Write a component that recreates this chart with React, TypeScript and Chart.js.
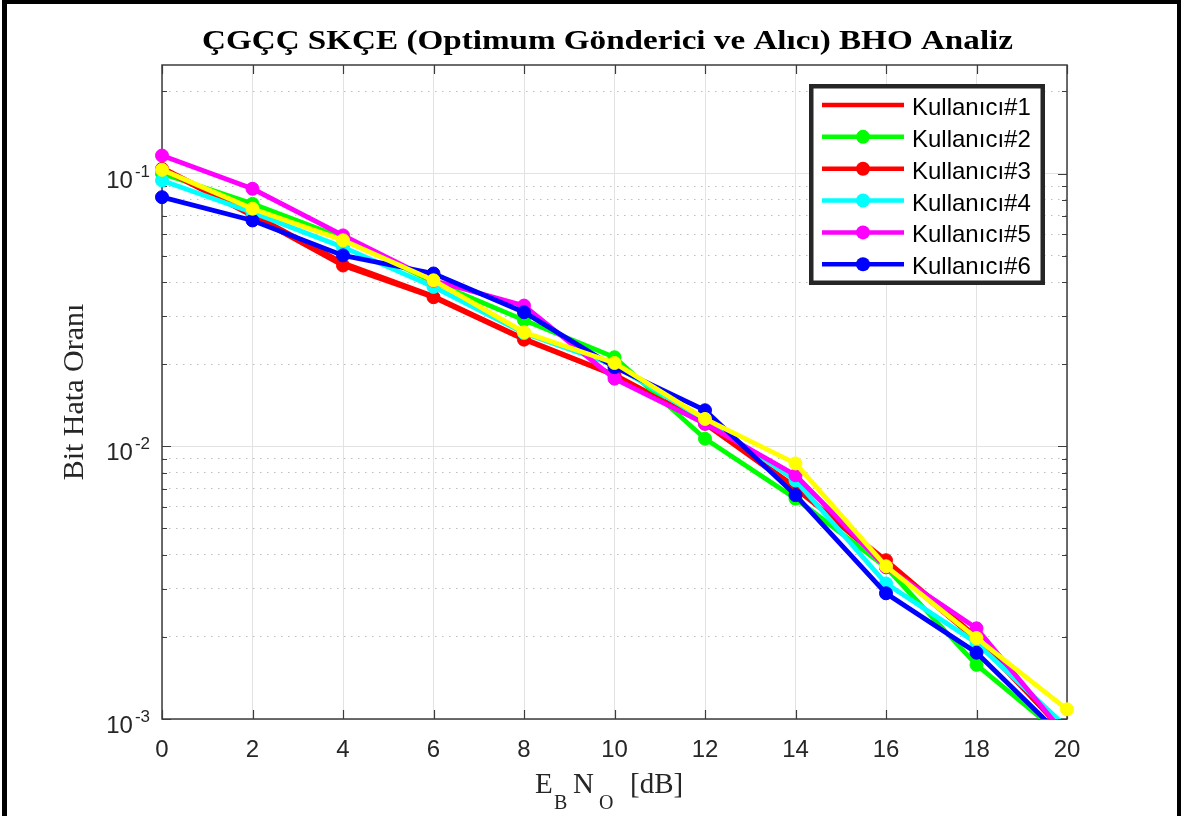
import React, { useEffect, useRef } from "react";
import { Chart, registerables } from "chart.js";

Chart.register(...registerables);

// ---------- data ----------
const xValues = [0, 2, 4, 6, 8, 10, 12, 14, 16, 18, 20];
const user1 = [0.105, 0.071, 0.047, 0.0355, 0.0248, 0.0183, 0.0122, 0.0071, 0.0037, 0.00195, 0.00088];
const user2 = [0.1, 0.0774, 0.058, 0.04, 0.029, 0.0212, 0.01066, 0.00643, 0.0036, 0.00158, 0.00084];
const user3 = [0.104, 0.07, 0.046, 0.0352, 0.0246, 0.0182, 0.0121, 0.007, 0.00382, 0.002, 0.00087];
const user4 = [0.0943, 0.072, 0.0537, 0.0384, 0.026, 0.0198, 0.0125, 0.0075, 0.00314, 0.0019, 0.00093];
const user5 = [0.1164, 0.0879, 0.0593, 0.0405, 0.0328, 0.0177, 0.0121, 0.00783, 0.0036, 0.00215, 0.00086];
const user6 = [0.0819, 0.0673, 0.0501, 0.043, 0.031, 0.0195, 0.01355, 0.00662, 0.00289, 0.00175, 0.00083];
const extraSeries = [0.1032, 0.0743, 0.0569, 0.0406, 0.0262, 0.0202, 0.0126, 0.00865, 0.00363, 0.00198, 0.001085];

const seriesValues = [user1, user2, user3, user4, user5, user6, extraSeries];
const seriesLabels = ["Kullanıcı#1", "Kullanıcı#2", "Kullanıcı#3", "Kullanıcı#4", "Kullanıcı#5", "Kullanıcı#6", ""];
const seriesColors = ["#ff0000", "#00ff00", "#ff0000", "#00ffff", "#ff00ff", "#0000ff", "#ffff00"];
const seriesHasMarker = [false, true, true, true, true, true, true];
const legendCount = 6;

const xTicks = [0, 2, 4, 6, 8, 10, 12, 14, 16, 18, 20];
const yDecades = [0.001, 0.01, 0.1];
const yDecadeBase = ["10", "10", "10"];
const yDecadeExponents = ["-3", "-2", "-1"];
const yMinorMultipliers = [2, 3, 4, 5, 6, 7, 8, 9];
const yMin = 0.001;
const yMax = 0.25;

const titleText = "ÇGÇÇ SKÇE (Optimum Gönderici ve Alıcı) BHO Analiz";
const yTitle = "Bit Hata Oranı";

const SANS = '"Liberation Sans", Arial, Helvetica, sans-serif';
const SERIF = '"Liberation Serif", "Times New Roman", Times, serif';
const TEXT = "#262626";

const isMajor = (v: number) => Math.abs(Math.log10(v) - Math.round(Math.log10(v))) < 1e-9;

function buildYTicks() {
  const t: { value: number }[] = [];
  yDecades.forEach((d) => {
    t.push({ value: d });
    yMinorMultipliers.forEach((m) => {
      const v = d * m;
      if (v <= yMax) t.push({ value: v });
    });
  });
  return t;
}

const decorPlugin = {
  id: "decor",
  beforeDraw(chart: any) {
    const { ctx, width, height } = chart;
    ctx.save();
    ctx.fillStyle = "#ffffff";
    ctx.fillRect(0, 0, width, height);
    ctx.restore();
  },
  beforeDatasetsDraw(chart: any) {
    const { ctx, chartArea: a, scales } = chart;
    const xs = scales.x;
    const ys = scales.y;
    ctx.save();
    ctx.strokeStyle = "#3c3c3c";
    ctx.lineWidth = 1.2;
    ctx.beginPath();
    xTicks.forEach((v) => {
      const px = Math.round(xs.getPixelForValue(v)) + 0.5;
      ctx.moveTo(px, a.bottom);
      ctx.lineTo(px, a.bottom - 9);
      ctx.moveTo(px, a.top);
      ctx.lineTo(px, a.top + 9);
    });
    buildYTicks().forEach((t) => {
      const py = Math.round(ys.getPixelForValue(t.value)) + 0.5;
      const len = isMajor(t.value) ? 9 : 5;
      ctx.moveTo(a.left, py);
      ctx.lineTo(a.left + len, py);
      ctx.moveTo(a.right, py);
      ctx.lineTo(a.right - len, py);
    });
    ctx.stroke();
    ctx.lineWidth = 1.5;
    ctx.strokeRect(a.left, a.top, a.right - a.left, a.bottom - a.top);
    ctx.restore();
  },
  afterDraw(chart: any) {
    const { ctx, chartArea: a, scales } = chart;
    const ys = scales.y;
    ctx.save();

    // frame
    ctx.fillStyle = "#000000";
    ctx.fillRect(2, 0, 5, 816);
    ctx.fillRect(2, 0, 1179, 4);
    ctx.fillRect(1177, 0, 4, 816);

    // y tick labels with superscripts
    ctx.fillStyle = TEXT;
    ctx.textBaseline = "alphabetic";
    yDecades.forEach((d, i) => {
      const py = ys.getPixelForValue(d);
      ctx.font = `17px ${SANS}`;
      const ew = ctx.measureText(yDecadeExponents[i]).width;
      ctx.textAlign = "right";
      ctx.fillText(yDecadeExponents[i], a.left - 12, py + 3);
      ctx.font = `24px ${SANS}`;
      ctx.fillText(yDecadeBase[i], a.left - 12 - ew - 2, py + 14);
    });

    // title (stretched horizontally to the reference width)
    const cx = (a.left + a.right) / 2;
    ctx.fillStyle = "#000000";
    ctx.textAlign = "center";
    ctx.font = `bold 27px ${SERIF}`;
    const tw = ctx.measureText(titleText).width;
    const targetW = 811;
    ctx.save();
    ctx.translate(cx - 7, 49);
    ctx.scale(targetW / tw, 1);
    ctx.fillText(titleText, 0, 0);
    ctx.restore();

    // y axis title
    ctx.fillStyle = TEXT;
    ctx.save();
    ctx.translate(83, (a.top + a.bottom) / 2);
    ctx.rotate(-Math.PI / 2);
    ctx.font = `30px ${SERIF}`;
    ctx.textAlign = "center";
    ctx.fillText(yTitle, 0, 0);
    ctx.restore();

    // x axis title E_B N_O [dB]
    ctx.textAlign = "left";
    const base = 793;
    const sub = 809;
    const x0 = cx - 79.5;
    ctx.font = `29px ${SERIF}`;
    ctx.fillText("E", x0, base);
    ctx.font = `20px ${SERIF}`;
    ctx.fillText("B", x0 + 19, sub);
    ctx.font = `29px ${SERIF}`;
    ctx.fillText("N", x0 + 38, base);
    ctx.font = `20px ${SERIF}`;
    ctx.fillText("O", x0 + 64, sub);
    ctx.font = `29px ${SERIF}`;
    ctx.fillText("[dB]", x0 + 95, base);

    // legend
    const lx = 809;
    const ly = 84;
    const lw = 236;
    const lh = 201;
    ctx.fillStyle = "#ffffff";
    ctx.fillRect(lx, ly, lw, lh);
    ctx.strokeStyle = "#262626";
    ctx.lineWidth = 4.5;
    ctx.strokeRect(lx + 2.25, ly + 2.25, lw - 4.5, lh - 4.5);
    for (let i = 0; i < legendCount; i++) {
      const ry = 105 + i * 31.85;
      ctx.strokeStyle = seriesColors[i];
      ctx.lineWidth = 4.5;
      ctx.beginPath();
      ctx.moveTo(822, ry);
      ctx.lineTo(904, ry);
      ctx.stroke();
      if (seriesHasMarker[i]) {
        ctx.fillStyle = seriesColors[i];
        ctx.beginPath();
        ctx.arc(863, ry, 7, 0, Math.PI * 2);
        ctx.fill();
      }
      ctx.fillStyle = "#000000";
      ctx.font = `24px ${SANS}`;
      ctx.textAlign = "left";
      ctx.fillText(seriesLabels[i], 912, ry + 10);
    }
    ctx.restore();
  },
};

export default function App() {
  const ref = useRef<HTMLCanvasElement | null>(null);

  useEffect(() => {
    document.body.style.margin = "0";
    const canvas = ref.current;
    if (!canvas) return;
    const n = seriesValues.length;
    const datasets = seriesValues.map((vals, i) => ({
      label: seriesLabels[i],
      data: xValues.map((x, j) => ({ x, y: vals[j] })),
      borderColor: seriesColors[i],
      backgroundColor: seriesColors[i],
      borderWidth: 4.8,
      pointRadius: seriesHasMarker[i] ? 6.5 : 0,
      pointBorderWidth: 1,
      pointBackgroundColor: seriesColors[i],
      pointBorderColor: seriesColors[i],
      tension: 0,
      fill: false,
      order: n - 1 - i,
      clip: { left: 12, right: 12, top: 12, bottom: 0 },
    }));

    const chart = new Chart(canvas, {
      type: "line",
      data: { datasets },
      options: {
        animation: false,
        responsive: false,
        devicePixelRatio: 1,
        layout: { padding: { left: 162, right: 114, top: 65, bottom: 37 } },
        plugins: { legend: { display: false }, tooltip: { enabled: false }, title: { display: false } },
        scales: {
          x: {
            type: "linear",
            min: 0,
            max: 20,
            afterBuildTicks: (s: any) => {
              s.ticks = xTicks.map((v) => ({ value: v }));
            },
            afterFit: (s: any) => {
              s.height = 60;
            },
            ticks: {
              autoSkip: false,
              maxRotation: 0,
              padding: 17,
              color: TEXT,
              font: { family: SANS, size: 24 },
            },
            grid: { color: "#e2e2e2", lineWidth: 1, drawTicks: false },
            border: { display: false },
          },
          y: {
            type: "logarithmic",
            min: yMin,
            max: yMax,
            afterBuildTicks: (s: any) => {
              s.ticks = buildYTicks();
            },
            afterFit: (s: any) => {
              s.width = 0;
            },
            ticks: { display: false },
            grid: {
              drawTicks: false,
              lineWidth: 1,
              color: (c: any) => (c.tick && isMajor(c.tick.value) ? "#e2e2e2" : "#bdbdbd"),
            },
            border: {
              display: false,
              dash: (c: any) => (c.tick && isMajor(c.tick.value) ? [] : [1.5, 5.5]),
            },
          },
        },
      },
      plugins: [decorPlugin],
    } as any);
    return () => chart.destroy();
  }, []);

  return (
    <div style={{ width: 1181, height: 816, overflow: "hidden" }}>
      <canvas ref={ref} width={1181} height={816} style={{ display: "block" }} />
    </div>
  );
}
